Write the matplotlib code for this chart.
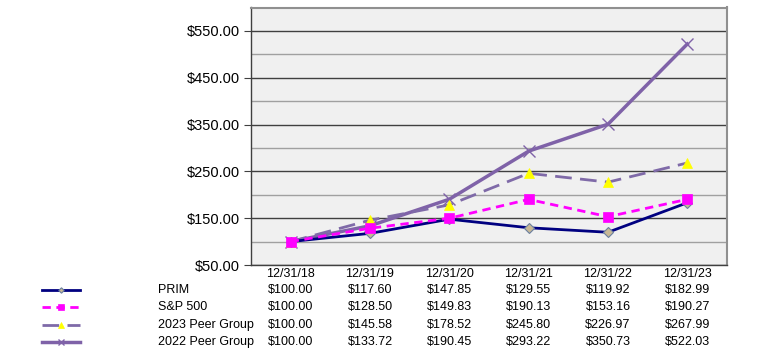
import matplotlib
matplotlib.use("Agg")
import matplotlib.pyplot as plt
from matplotlib.lines import Line2D

plt.rcParams['font.family'] = ['Liberation Sans', 'DejaVu Sans']

categories = ["12/31/18", "12/31/19", "12/31/20", "12/31/21", "12/31/22", "12/31/23"]
series_names = ["PRIM", "S&P 500", "2023 Peer Group", "2022 Peer Group"]
prim = [100.00, 117.60, 147.85, 129.55, 119.92, 182.99]
sp500 = [100.00, 128.50, 149.83, 190.13, 153.16, 190.27]
peer2023 = [100.00, 145.58, 178.52, 245.80, 226.97, 267.99]
peer2022 = [100.00, 133.72, 190.45, 293.22, 350.73, 522.03]
yticks = [50, 150, 250, 350, 450, 550]

W, H = 774, 352
fig = plt.figure(figsize=(W / 100, H / 100), dpi=100)
ax = fig.add_axes([251 / W, 1 - 265 / H, (727 - 251) / W, (265 - 7.5) / H])
ax.set_facecolor('#F0F0F0')

x = [i + 0.5 for i in range(len(categories))]

styles = [
    dict(data=prim, color='#000080', ls='-', lw=2.0, marker='D', ms=5, mfc='#C8B896', mec='#6A7FA0', mew=0.8, zorder=5),
    dict(data=sp500, color='#FF00FF', ls=(0, (3, 2)), lw=2.0, marker='s', ms=7.5, mfc='#FF00FF', mec='#FF00FF', mew=0.5, zorder=6),
    dict(data=peer2023, color='#7F6AA8', ls=(0, (6, 3)), lw=2.0, marker='^', ms=7.5, mfc='#FFFF00', mec='#FFFF00', mew=0.5, zorder=4),
    dict(data=peer2022, color='#7F62A8', ls='-', lw=2.5, marker='x', ms=8, mfc='#7F62A8', mec='#7F62A8', mew=1.0, zorder=3),
]

for st in styles:
    d = st['data']
    ax.plot(x, d, color=st['color'], linestyle=st['ls'], linewidth=st['lw'], marker=st['marker'],
            markersize=st['ms'], markerfacecolor=st['mfc'], markeredgecolor=st['mec'],
            markeredgewidth=st['mew'], zorder=st['zorder'])

ax.set_xlim(0, len(categories))
ax.set_ylim(50, 600)
ax.set_yticks(yticks)
ax.set_yticklabels([f"${v:,.2f}" for v in yticks], fontsize=10.5)
ax.set_yticks([100, 200, 300, 400, 500], minor=True)
ax.yaxis.grid(True, which='major', color='#404040', linewidth=1.0)
ax.yaxis.grid(True, which='minor', color='#A0A0A0', linewidth=1.0)
ax.tick_params(axis='y', which='major', length=5, width=0.8, color='#404040', pad=3)
ax.tick_params(axis='y', which='minor', length=0)
ax.set_axisbelow(True)
ax.set_xticks(x)
ax.set_xticklabels(categories, fontsize=9)
ax.tick_params(axis='x', length=0, pad=2)
for s in ['left', 'bottom']:
    ax.spines[s].set_color('#404040')
    ax.spines[s].set_linewidth(1.0)
for s in ['top', 'right']:
    ax.spines[s].set_color('#909090')
    ax.spines[s].set_linewidth(1.5)

# Data table below
row_y = [290, 307, 325, 342]
for r, st in enumerate(styles):
    yf = 1 - row_y[r] / H
    fig.text(158 / W, yf, series_names[r], fontsize=9, va='center', ha='left')
    for i, v in enumerate(st['data']):
        xd = ax.transData.transform((x[i], 0))[0] / W
        fig.text(xd, yf, f"${v:,.2f}", fontsize=9, va='center', ha='center')
    lx0, lx1 = 42 / W, 80 / W
    ln = Line2D([lx0, lx1], [yf, yf], transform=fig.transFigure, color=st['color'],
                linestyle=st['ls'], linewidth=st['lw'])
    fig.add_artist(ln)
    mk = Line2D([(lx0 + lx1) / 2], [yf], transform=fig.transFigure, marker=st['marker'],
                markersize=st['ms'] * 0.55, markerfacecolor=st['mfc'], markeredgecolor=st['mec'],
                markeredgewidth=st['mew'], linestyle='none')
    fig.add_artist(mk)

fig.savefig("out.png", dpi=100)
